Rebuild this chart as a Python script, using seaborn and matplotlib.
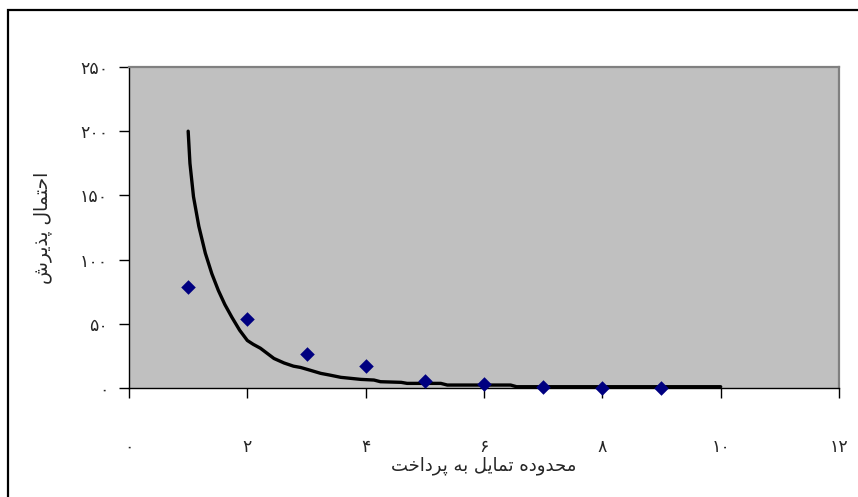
import matplotlib
matplotlib.use("Agg")
import matplotlib.pyplot as plt
import matplotlib.patches as mpatches
from matplotlib.ticker import FuncFormatter
import seaborn as sns
import pandas as pd

# ---------------- data ----------------
point_x = [1, 2, 3, 4, 5, 6, 7, 8, 9]
point_y = [79, 54, 26.5, 17, 5.5, 3, 1, 0, 0]

curve_x = [1.0, 1.03, 1.09, 1.18, 1.29, 1.4, 1.51, 1.62, 1.74, 1.87, 2.0, 2.1,
           2.22, 2.45, 2.62, 2.78, 2.9, 3.05, 3.24, 3.4, 3.58, 3.92, 4.14,
           4.25, 4.6, 4.7, 5.27, 5.38, 6.45, 6.55, 10.0]
curve_y = [200, 175, 149, 126, 105, 89, 76, 65, 55, 45, 37, 34,
           31, 23, 19.5, 17, 16, 14, 11.4, 10, 8.3, 6.7, 6.2,
           4.9, 4.4, 3.6, 3.6, 2.3, 2.3, 1.0, 1.0]

x_ticks = [0, 2, 4, 6, 8, 10, 12]
y_ticks = [0, 50, 100, 150, 200, 250]

x_label = "محدوده تمایل به پرداخت"
y_label = "احتمال پذیرش"

# ---------------- minimal Arabic/Persian shaping ----------------
FORMS = {
    'ا': ('\uFE8D', '\uFE8E', None, None),
    'ب': ('\uFE8F', '\uFE90', '\uFE91', '\uFE92'),
    'ت': ('\uFE95', '\uFE96', '\uFE97', '\uFE98'),
    'ح': ('\uFEA1', '\uFEA2', '\uFEA3', '\uFEA4'),
    'خ': ('\uFEA5', '\uFEA6', '\uFEA7', '\uFEA8'),
    'د': ('\uFEA9', '\uFEAA', None, None),
    'ذ': ('\uFEAB', '\uFEAC', None, None),
    'ر': ('\uFEAD', '\uFEAE', None, None),
    'ش': ('\uFEB5', '\uFEB6', '\uFEB7', '\uFEB8'),
    'ل': ('\uFEDD', '\uFEDE', '\uFEDF', '\uFEE0'),
    'م': ('\uFEE1', '\uFEE2', '\uFEE3', '\uFEE4'),
    'ه': ('\uFEE9', '\uFEEA', '\uFEEB', '\uFEEC'),
    'و': ('\uFEED', '\uFEEE', None, None),
    'پ': ('\uFB56', '\uFB57', '\uFB58', '\uFB59'),
    'ی': ('\uFBFC', '\uFBFD', '\uFBFE', '\uFBFF'),
}


def shape(text):
    out = []
    for i, c in enumerate(text):
        if c not in FORMS:
            out.append(c)
            continue
        prev = text[i - 1] if i > 0 else None
        nxt = text[i + 1] if i + 1 < len(text) else None
        jp = prev in FORMS and FORMS[prev][2] is not None
        jn = FORMS[c][2] is not None and nxt in FORMS
        iso, fin, ini, med = FORMS[c]
        if jp and jn:
            out.append(med)
        elif jp:
            out.append(fin)
        elif jn:
            out.append(ini)
        else:
            out.append(iso)
    return ''.join(reversed(out))


PERSIAN_DIGITS = str.maketrans("0123456789", "۰۱۲۳۴۵۶۷۸۹")


def fa_num(v, pos=None):
    return str(int(round(v))).translate(PERSIAN_DIGITS)


# ---------------- plot ----------------
sns.set_theme(style="white")
plt.rcParams['font.family'] = ['DejaVu Sans']

fig = plt.figure(figsize=(8.58, 4.97), dpi=100)
ax = fig.add_axes([129 / 858, 1 - 388 / 497, (839 - 129) / 858, (388 - 67) / 497])
ax.set_facecolor("#C0C0C0")

curve_df = pd.DataFrame({"x": curve_x, "y": curve_y})
pts_df = pd.DataFrame({"x": point_x, "y": point_y})

sns.lineplot(data=curve_df, x="x", y="y", ax=ax, color="black", lw=2.4,
             sort=False, estimator=None, zorder=3)
sns.scatterplot(data=pts_df, x="x", y="y", ax=ax, marker="D", s=55,
                color="#000080", edgecolor="#000080", linewidth=0, zorder=4,
                clip_on=False)

ax.set_xlim(0, 12)
ax.set_ylim(0, 250)
ax.set_xticks(x_ticks)
ax.set_yticks(y_ticks)
ax.xaxis.set_major_formatter(FuncFormatter(fa_num))
ax.yaxis.set_major_formatter(FuncFormatter(fa_num))

for s in ["left", "bottom"]:
    ax.spines[s].set_color("black")
    ax.spines[s].set_linewidth(1.0)
for s in ["top", "right"]:
    ax.spines[s].set_color("#808080")
    ax.spines[s].set_linewidth(1.6)

ax.tick_params(axis="x", direction="out", length=7, width=1, color="black",
               pad=29, labelsize=12.5, bottom=True)
ax.tick_params(axis="y", direction="out", length=7, width=1, color="black",
               pad=8, labelsize=12.5, left=True)

ax.set_xlabel(shape(x_label), fontsize=13, labelpad=0)
ax.set_ylabel(shape(y_label), fontsize=13.5, labelpad=20)
ax.grid(False)

# outer chart border
fig.patches.append(mpatches.Rectangle((8 / 858, -0.1), 1.2, 1 - 10 / 497 + 0.1,
                                      transform=fig.transFigure, fill=False,
                                      edgecolor="black", linewidth=1.6))

fig.savefig("out.png", dpi=100)
